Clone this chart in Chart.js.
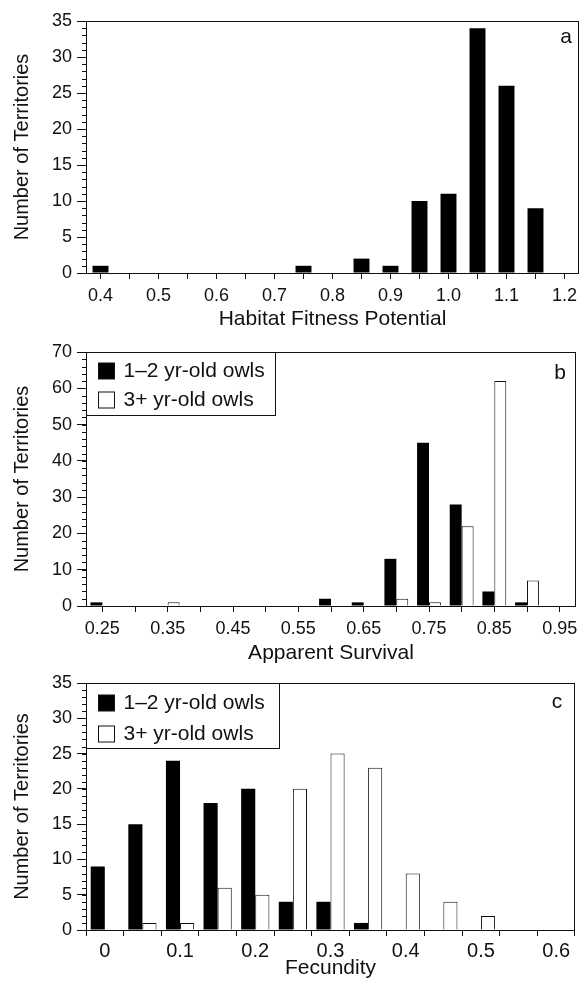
<!DOCTYPE html>
<html>
<head>
<meta charset="utf-8">
<script src="https://cdn.jsdelivr.net/npm/chart.js@4.4.1/dist/chart.umd.min.js"></script>
<style>
  html, body { margin: 0; padding: 0; background: #fff; }
  #page { position: relative; width: 584px; height: 990px; overflow: hidden; }
  #page canvas { position: absolute; left: 0; }
</style>
</head>
<body>
<div id="page">
  <canvas id="panel-a" width="584" height="332" style="top:0"></canvas>
  <canvas id="panel-b" width="584" height="332" style="top:332px"></canvas>
  <canvas id="panel-c" width="584" height="326" style="top:664px"></canvas>
</div>
<script>
// panel a
const fitnessBins = [0.40, 0.45, 0.50, 0.55, 0.60, 0.65, 0.70, 0.75, 0.80, 0.85, 0.90, 0.95, 1.00, 1.05, 1.10, 1.15, 1.20];
const fitnessCounts = [1, 0, 0, 0, 0, 0, 0, 1, 0, 2, 1, 10, 11, 34, 26, 9, 0];

// panel b
const survivalBins = [0.25, 0.30, 0.35, 0.40, 0.45, 0.50, 0.55, 0.60, 0.65, 0.70, 0.75, 0.80, 0.85, 0.90, 0.95];
const survivalYoung = [1, 0, 0, 0, 0, 0, 0, 2, 1, 13, 45, 28, 4, 1, 0];
const survivalOld = [0, 0, 1, 0, 0, 0, 0, 0, 0, 2, 1, 22, 62, 7, 0];

// panel c
const fecundityBins = [0, 0.05, 0.1, 0.15, 0.2, 0.25, 0.3, 0.35, 0.4, 0.45, 0.5, 0.55, 0.6];
const fecundityYoung = [9, 15, 24, 18, 20, 4, 4, 1, 0, 0, 0, 0, 0];
const fecundityOld = [0, 1, 1, 6, 5, 20, 25, 23, 8, 4, 2, 0, 0];

const ageLabels = ['1\u20132 yr-old owls', '3+ yr-old owls'];
const yTitle = 'Number of Territories';

const INK = '#111';
const FONT = "'Liberation Sans', Arial, Helvetica, sans-serif";

// box around the plot area
const frame = {
  id: 'frame',
  afterDraw(chart) {
    const { ctx, chartArea: a } = chart;
    ctx.save();
    ctx.strokeStyle = INK;
    ctx.lineWidth = 1;
    ctx.strokeRect(Math.round(a.left) + 0.5, Math.round(a.top) + 0.5,
      Math.round(a.right - a.left) - 1, Math.round(a.bottom - a.top));
    ctx.restore();
  },
};

// short unlabeled ticks between the major y ticks
const minorTicks = {
  id: 'minorTicks',
  afterDraw(chart, args, opts) {
    const y = chart.scales.y;
    const { ctx, chartArea } = chart;
    const n = Math.round((y.max - y.min) / opts.step);
    ctx.save();
    ctx.strokeStyle = INK;
    ctx.lineWidth = 1;
    ctx.beginPath();
    for (let i = 0; i <= n; i++) {
      const py = Math.round(y.getPixelForValue(y.min + i * opts.step)) + 0.5;
      ctx.moveTo(chartArea.left - opts.len, py);
      ctx.lineTo(chartArea.left, py);
    }
    ctx.stroke();
    ctx.restore();
  },
};

// panel letter in the top right corner
const panelLetter = {
  id: 'panelLetter',
  afterDraw(chart, args, opts) {
    const { ctx, chartArea } = chart;
    ctx.save();
    ctx.fillStyle = INK;
    ctx.font = `21px ${FONT}`;
    ctx.textAlign = 'center';
    ctx.textBaseline = 'middle';
    ctx.fillText(opts.text, chartArea.right - opts.dx, chartArea.top + opts.dy);
    ctx.restore();
  },
};

// boxed legend in the top left corner, built from the datasets
const boxLegend = {
  id: 'boxLegend',
  afterDraw(chart, args, opts) {
    if (!opts.show) return;
    const { ctx, chartArea } = chart;
    const x0 = Math.round(chartArea.left) + 0.5;
    const y0 = Math.round(chartArea.top) + 0.5;
    ctx.save();
    ctx.fillStyle = '#fff';
    ctx.fillRect(x0, y0, opts.w, opts.h);
    ctx.strokeStyle = INK;
    ctx.lineWidth = 1;
    ctx.strokeRect(x0, y0, opts.w, opts.h);
    ctx.font = `21px ${FONT}`;
    ctx.textBaseline = 'middle';
    chart.data.datasets.forEach((ds, i) => {
      const cy = y0 + opts.rows[i];
      const s = 16;
      ctx.fillStyle = ds.backgroundColor;
      ctx.fillRect(x0 + 12, Math.round(cy - s / 2), s, s);
      ctx.strokeStyle = INK;
      ctx.strokeRect(x0 + 12, Math.round(cy - s / 2), s, s);
      ctx.fillStyle = INK;
      ctx.fillText(ds.label, x0 + 37, cy + 1);
    });
    ctx.restore();
  },
};

function yScale(max, step) {
  return {
    min: 0,
    max,
    afterFit: (s) => { s.width = 86; },
    border: { display: false },
    grid: { drawOnChartArea: false, drawTicks: true, tickLength: 9, color: INK },
    ticks: { stepSize: step, color: INK, padding: 5, font: { family: FONT, size: 18 } },
    title: {
      display: true, text: yTitle, color: INK,
      font: { family: FONT, size: 20 }, padding: { top: 10, bottom: 0 },
    },
  };
}

function xScale(opts) {
  return {
    type: 'category',
    afterFit: (s) => { s.height = opts.height; },
    border: { display: false },
    grid: { drawOnChartArea: false, drawTicks: true, tickLength: 6, color: INK, offset: opts.gridOffset },
    ticks: {
      color: INK, padding: opts.padding, autoSkip: false, maxRotation: 0,
      font: { family: FONT, size: opts.fontSize },
      callback: (v, i) => (i % 2 === 0 ? opts.format(opts.bins[i]) : ''),
    },
    title: {
      display: true, text: opts.title, color: INK,
      font: { family: FONT, size: 21, lineHeight: 1 }, padding: { top: 0, bottom: opts.titlePad },
    },
  };
}

function panel(id, cfg) {
  return new Chart(document.getElementById(id), {
    type: 'bar',
    data: { labels: cfg.bins.map(String), datasets: cfg.datasets },
    options: {
      responsive: false,
      animation: false,
      layout: { padding: cfg.padding },
      plugins: {
        legend: { display: false },
        tooltip: { enabled: false },
        minorTicks: { step: cfg.minorStep, len: 4 },
        panelLetter: cfg.letter,
        boxLegend: cfg.legend || { show: false },
      },
      scales: { x: cfg.x, y: cfg.y },
    },
    plugins: [frame, minorTicks, panelLetter, boxLegend],
  });
}

const black = (label, data, pct) => ({
  label, data, backgroundColor: '#000', borderWidth: 0,
  categoryPercentage: pct.cat, barPercentage: pct.bar,
});
const white = (label, data, pct) => ({
  label, data, backgroundColor: '#fff', borderColor: INK, borderWidth: 1,
  categoryPercentage: pct.cat, barPercentage: pct.bar,
});

panel('panel-a', {
  bins: fitnessBins,
  datasets: [black('Territories', fitnessCounts, { cat: 1, bar: 0.55 })],
  padding: { top: 21, right: 5, left: 0, bottom: 0 },
  minorStep: 1,
  letter: { text: 'a', dx: 13, dy: 16 },
  x: xScale({ bins: fitnessBins, format: (v) => v.toFixed(1), title: 'Habitat Fitness Potential',
    height: 59, gridOffset: false, padding: 6, fontSize: 18, titlePad: 2 }),
  y: yScale(35, 5),
});

panel('panel-b', {
  bins: survivalBins,
  datasets: [
    black(ageLabels[0], survivalYoung, { cat: 0.73, bar: 1 }),
    white(ageLabels[1], survivalOld, { cat: 0.73, bar: 1 }),
  ],
  padding: { top: 20, right: 8, left: 0, bottom: 0 },
  minorStep: 2,
  letter: { text: 'b', dx: 16, dy: 21 },
  legend: { show: true, w: 189, h: 63, rows: [18, 47] },
  x: xScale({ bins: survivalBins, format: (v) => v.toFixed(2), title: 'Apparent Survival',
    height: 58, gridOffset: false, padding: 6, fontSize: 18, titlePad: 0 }),
  y: yScale(70, 10),
});

panel('panel-c', {
  bins: fecundityBins,
  datasets: [
    black(ageLabels[0], fecundityYoung, { cat: 0.75, bar: 1 }),
    white(ageLabels[1], fecundityOld, { cat: 0.75, bar: 1 }),
  ],
  padding: { top: 19, right: 9, left: 0, bottom: 0 },
  minorStep: 1,
  letter: { text: 'c', dx: 18, dy: 19 },
  legend: { show: true, w: 193, h: 65, rows: [19, 50] },
  x: xScale({ bins: fecundityBins, format: (v) => String(v), title: 'Fecundity',
    height: 60, gridOffset: true, padding: 3, fontSize: 20, titlePad: 11 }),
  y: yScale(35, 5),
});
</script>
</body>
</html>
